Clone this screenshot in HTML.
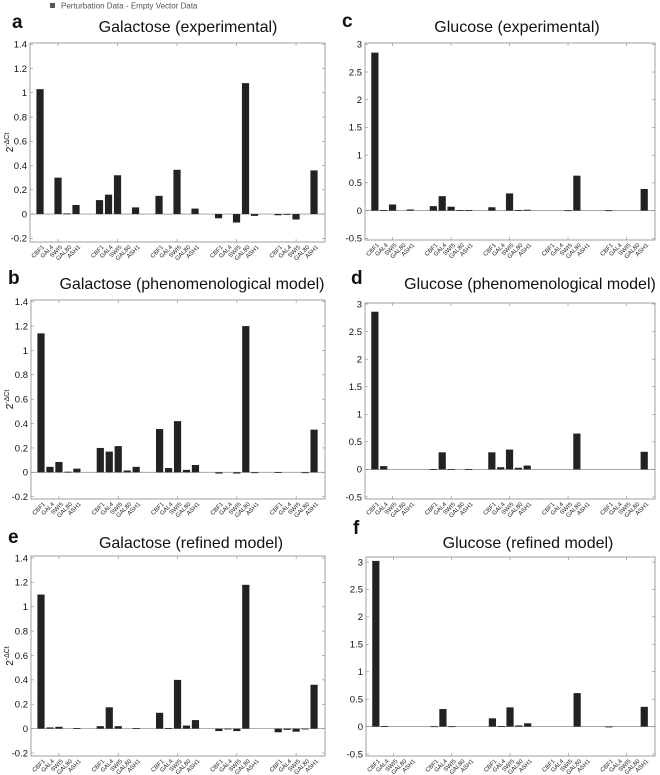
<!DOCTYPE html>
<html><head><meta charset="utf-8"><style>
html,body{margin:0;padding:0;background:#fff;}
svg{display:block;font-family:"Liberation Sans",sans-serif;}
</style></head><body>
<svg id="fig" width="660" height="775" viewBox="0 0 660 775" xmlns="http://www.w3.org/2000/svg">
<g>
<rect x="50" y="3" width="5" height="5" fill="#555"/>
<text x="61" y="8.5" font-size="8" fill="#555">Perturbation Data  -  Empty Vector Data</text>
</g>
</svg>
<script>
const genes = ["CBF1","GAL4","SWI5","GAL80","ASH1"];
const galTicks = [-0.2,0,0.2,0.4,0.6,0.8,1,1.2,1.4];
const galTickLabels = ["-0.2","0","0.2","0.4","0.6","0.8","1","1.2","1.4"];
const gluTicks = [-0.5,0,0.5,1,1.5,2,2.5,3];
const gluTickLabels = ["-0.5","0","0.5","1","1.5","2","2.5","3"];
const galExp = [1.03,0,0.30,0.005,0.075, 0.115,0.16,0.32,0,0.055, 0.15,0,0.365,0,0.045, -0.035,0,-0.07,1.08,-0.015, -0.01,-0.005,-0.045,0,0.36];
const gluExp = [2.85,0.01,0.11,0,0.02, 0.08,0.26,0.07,0.01,0.01, 0.06,0,0.31,0.01,0.015, 0,0,0.005,0.63,0, 0.005,0,0,0,0.39];
const galPhen = [1.14,0.045,0.085,0.005,0.03, 0.2,0.17,0.215,0.015,0.045, 0.355,0.035,0.42,0.02,0.06, -0.01,0,-0.01,1.2,-0.005, 0.002,0,0,-0.005,0.35];
const gluPhen = [2.86,0.06,0,0,0, 0.005,0.31,0.005,0,0.005, 0.31,0.04,0.36,0.03,0.07, 0,0,0,0.65,0, 0,0,0,0,0.32];
const galRef = [1.1,0.01,0.015,0,0.005, 0.02,0.175,0.02,0,0.005, 0.13,0.005,0.4,0.025,0.07, -0.02,-0.005,-0.02,1.18,0, -0.03,-0.01,-0.025,-0.005,0.36];
const gluRef = [3.02,0.01,0,0,0, 0.005,0.32,0.005,0,0, 0.15,0.01,0.35,0.02,0.06, 0,0,0,0.61,0, -0.01,0,0,0,0.36];

const NS="http://www.w3.org/2000/svg";
const svg=document.getElementById('fig');
function mk(tag,attrs,parent){const e=document.createElementNS(NS,tag);for(const k in attrs)e.setAttribute(k,attrs[k]);(parent||svg).appendChild(e);return e;}

const panels=[
 {id:'a',title:'Galactose (experimental)',data:galExp,ticks:galTicks,labels:galTickLabels,bx:30,bw:295,by:43,bh:199,t0:-0.2,t1:1.4,p0:238.3,p1:44.3,lx:12,ly:28,tx:188,ty:32,ylab:true},
 {id:'c',title:'Glucose (experimental)',data:gluExp,ticks:gluTicks,labels:gluTickLabels,bx:365,bw:290,by:43,bh:197,t0:-0.5,t1:3,p0:238.3,p1:44.3,lx:342,ly:27,tx:517,ty:32,ylab:false},
 {id:'b',title:'Galactose (phenomenological model)',data:galPhen,ticks:galTicks,labels:galTickLabels,bx:31,bw:294,by:300,bh:199,t0:-0.2,t1:1.4,p0:496.7,p1:301.7,lx:8,ly:284,tx:192,ty:289,ylab:true},
 {id:'d',title:'Glucose (phenomenological model)',data:gluPhen,ticks:gluTicks,labels:gluTickLabels,bx:365,bw:290,by:303,bh:196,t0:-0.5,t1:3,p0:497,p1:304,lx:351,ly:284,tx:530,ty:289,ylab:false},
 {id:'e',title:'Galactose (refined model)',data:galRef,ticks:galTicks,labels:galTickLabels,bx:31,bw:294,by:556,bh:200,t0:-0.2,t1:1.4,p0:753,p1:558,lx:8,ly:543,tx:191,ty:548,ylab:true},
 {id:'f',title:'Glucose (refined model)',data:gluRef,ticks:gluTicks,labels:gluTickLabels,bx:366,bw:289,by:557,bh:199,t0:-0.5,t1:3,p0:754,p1:562,lx:353,ly:534,tx:528,ty:548,ylab:false}
];

panels.forEach(P=>{
  const g=mk('g',{});
  
  
  const y=v=>P.p0+(v-P.t0)*(P.p1-P.p0)/(P.t1-P.t0);
  const x=(grp,i)=>P.bx+P.bw*(0.034+grp*0.2017+i*0.0305);
  const lt=mk('text',{x:P.lx,y:P.ly,'font-size':19,'font-weight':'bold',fill:'#111'},g);
  lt.textContent=P.id;
  
  
  const tt=mk('text',{x:P.tx,y:P.ty,'font-size':16,'text-anchor':'middle',fill:'#111'},g);
  tt.textContent=P.title;
  
  
  const zl=mk('line',{x1:P.bx,x2:P.bx+P.bw,y1:y(0),y2:y(0),stroke:'#999','stroke-width':0.8},g);
  
  
  P.data.forEach((v,k)=>{
    if(v===0) return;
    const grp=Math.floor(k/5),i=k%5;
    const cx=x(grp,i);
    const y0=y(0),y1=y(v);
    const r=mk('rect',{x:cx-3.6,y:Math.min(y0,y1),width:7.2,height:Math.max(Math.abs(y1-y0),0.8),fill:'#222'},g);
    
    
  });
  const bx=mk('rect',{x:P.bx,y:P.by,width:P.bw,height:P.bh,fill:'none',stroke:'#888','stroke-width':0.8},g);
  
  
  P.ticks.forEach((t,j)=>{
    const yy=y(t);
    mk('line',{x1:P.bx,x2:P.bx+3,y1:yy,y2:yy,stroke:'#888','stroke-width':0.6},g);
    mk('line',{x1:P.bx+P.bw-3,x2:P.bx+P.bw,y1:yy,y2:yy,stroke:'#888','stroke-width':0.6},g);
    const tl=mk('text',{x:P.bx-3,y:yy+3.3,'font-size':9.5,'text-anchor':'end',fill:'#111'},g);
    tl.textContent=P.labels[j];
    
    
  });
  for(let grp=0;grp<5;grp++){
    const cx=x(grp,2);
    mk('line',{x1:cx,x2:cx,y1:P.by+P.bh,y2:P.by+P.bh-3,stroke:'#888','stroke-width':0.6},g);
    mk('line',{x1:cx,x2:cx,y1:P.by,y2:P.by+3,stroke:'#888','stroke-width':0.6},g);
    for(let i=0;i<5;i++){
      const bx2=x(grp,i)+2, by2=P.by+P.bh+3;
      const xl=mk('text',{x:bx2,y:by2,'font-size':6,'text-anchor':'end',fill:'#222',transform:`rotate(-45 ${bx2} ${by2})`,dy:'0.6em'},g);
      xl.textContent=genes[i];
      
      
    }
  }
  if(P.ylab){
    const cy=(P.by+P.bh/2);
    const yl=mk('text',{x:13,y:cy,'font-size':10,'text-anchor':'middle',fill:'#111',transform:`rotate(-90 13 ${cy})`},g);
    
    
    yl.appendChild(document.createTextNode('2'));
    const sp=mk('tspan',{dy:-4,'font-size':7},yl);
    sp.textContent='-ΔCt';
  }
});
</script>
</body></html>
